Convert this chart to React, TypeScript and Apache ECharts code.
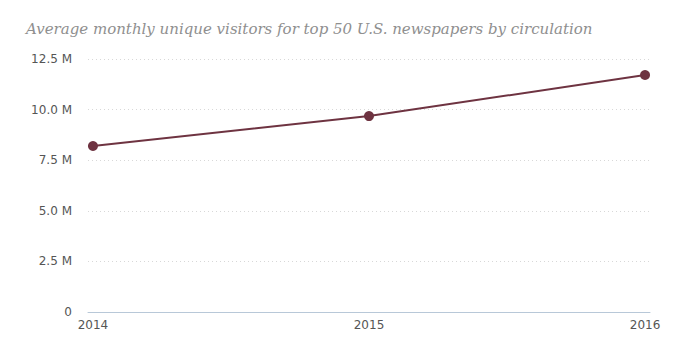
import React, { useEffect, useRef } from "react";
import * as echarts from "echarts";

const years = [2014, 2015, 2016];
const visitors = [8.2e6, 9.68e6, 11.71e6];
const yTicks = [0, 2.5e6, 5e6, 7.5e6, 10e6, 12.5e6];
const titleText = "Average monthly unique visitors for top 50 U.S. newspapers by circulation";

export default function App() {
  const ref = useRef<HTMLDivElement>(null);
  useEffect(() => {
    document.body.style.margin = "0";
    const chart = echarts.init(ref.current!, null, { renderer: "svg" });
    chart.setOption({
      animation: false,
      title: {
        text: titleText,
        left: 21,
        top: 16,
        textStyle: {
          fontFamily: "DejaVu Serif",
          fontStyle: "italic",
          fontWeight: "normal",
          fontSize: 15,
          color: "#8f8f8f",
        },
      },
      grid: { left: 88, right: 36, top: 59, bottom: 43 },
      xAxis: {
        type: "value",
        min: 2013.982,
        max: 2016.018,
        axisLine: { show: true, lineStyle: { color: "#b8c8d8", width: 1 } },
        axisTick: { show: false },
        splitLine: { show: false },
        axisLabel: {
          customValues: years,
          formatter: (v: number) => String(v),
          color: "#555",
          fontFamily: "DejaVu Sans",
          fontSize: 12,
          margin: 7,
        },
      },
      yAxis: {
        type: "value",
        min: 0,
        max: yTicks[yTicks.length - 1],
        interval: 2.5e6,
        axisLine: { show: false },
        axisTick: { show: false },
        splitLine: { lineStyle: { color: "#d8d8d8", type: [1, 3], width: 1 } },
        axisLabel: {
          formatter: (v: number) => (v === 0 ? "0" : (v / 1e6).toFixed(1) + " M"),
          color: "#555",
          fontFamily: "DejaVu Sans",
          fontSize: 12,
          margin: 16,
        },
      },
      series: [
        {
          type: "line",
          data: years.map((y, i) => [y, visitors[i]]),
          lineStyle: { color: "#6e3341", width: 2 },
          itemStyle: { color: "#6e3341" },
          symbol: "circle",
          symbolSize: 10,
        },
      ],
    });
    return () => chart.dispose();
  }, []);
  return <div ref={ref} style={{ width: 686, height: 355 }} />;
}
